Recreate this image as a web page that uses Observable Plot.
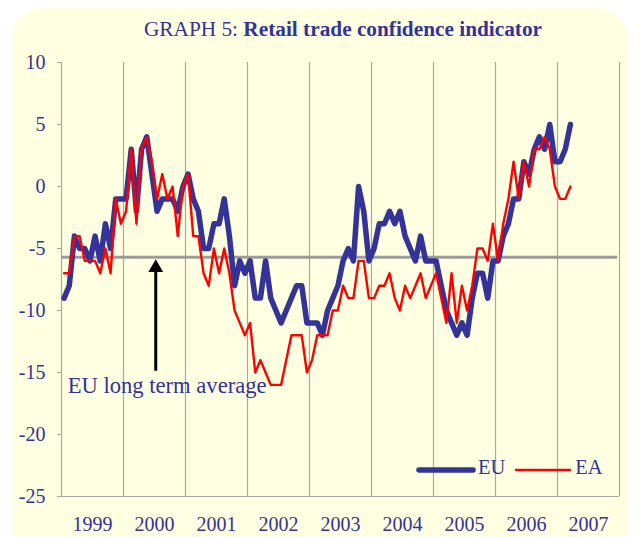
<!DOCTYPE html>
<html>
<head>
<meta charset="utf-8">
<script src="https://cdn.jsdelivr.net/npm/d3@7"></script>
<script src="https://cdn.jsdelivr.net/npm/@observablehq/plot@0.6"></script>
<style>
  body { margin: 0; background: #ffffff; }
  #wrap { position: relative; width: 641px; height: 537px; overflow: hidden; font-family: "Liberation Serif", "Times New Roman", serif; color: #333399; }
  #panel { position: absolute; left: 12px; top: 8px; width: 616px; height: 560px; background: #FFFFE1; border-radius: 30px; }
  #title { position: absolute; left: 0; top: 16px; width: 686px; text-align: center; font-size: 21.3px; line-height: 26px; white-space: nowrap; }
  #title b { font-weight: bold; }
  #chart { position: absolute; left: 0; top: 0; }
  #legend { position: absolute; left: 416px; top: 452px; font-size: 20.5px; line-height: 26px; white-space: nowrap; }
  #legend span.item { display: inline-block; vertical-align: middle; }
  #legend svg { vertical-align: middle; }
  #chart svg text { font-family: "Liberation Serif", "Times New Roman", serif; }
</style>
</head>
<body>
<div id="wrap">
  <div id="panel"></div>
  <div id="chart"></div>
  <div id="title">GRAPH 5: <b>Retail trade confidence indicator</b></div>
  <div id="legend"></div>
</div>
<script>
// ---- data (monthly, Jan 1999 – Mar 2007) ----
const startYear = 1999;
const seriesNames = ["EU", "EA"];
const seriesColors = ["#333399", "#FF0000"];
const eu = [
  -9, -8, -4, -5, -5, -6, -4, -6, -3, -5, -1, -1,     // 1999
  -1, 3, -2, 3, 4, 1, -2, -1, -1, -1, -2, 0,          // 2000
  1, -1, -2, -5, -5, -3, -3, -1, -4, -8, -6, -7,      // 2001
  -6, -9, -9, -6, -9, -10, -11, -10, -9, -8, -8, -11, // 2002
  -11, -11, -12, -10, -9, -8, -6, -5, -6, 0, -2, -6,  // 2003
  -5, -3, -3, -2, -3, -2, -4, -5, -6, -4, -6, -6,     // 2004
  -6, -8, -10, -11, -12, -11, -12, -9, -7, -7, -9, -6, // 2005
  -6, -4, -3, -1, -1, 2, 1, 3, 4, 3, 5, 2,            // 2006
  2, 3, 5                                              // 2007
];
const ea = [
  -7, -7, -4, -4, -6, -6, -6, -7, -5, -7, -1, -3,     // 1999
  -2, 3, -3, 3, 4, 2, -1, 1, -1, 0, -4, 0,            // 2000
  1, -4, -4, -7, -8, -5, -7, -5, -7, -10, -11, -12,   // 2001
  -11, -15, -14, -15, -16, -16, -16, -14, -12, -12, -12, -15, // 2002
  -14, -12, -12, -12, -10, -10, -8, -9, -9, -6, -6, -9, // 2003
  -9, -8, -8, -7, -9, -10, -8, -9, -8, -7, -9, -8,    // 2004
  -7, -9, -11, -7, -11, -8, -10, -8, -5, -5, -6, -3,  // 2005
  -6, -3, -1, 2, -1, 2, 0, 3, 3, 4, 3, 0,             // 2006
  -1, -1, 0                                            // 2007
];
const euLongTermAverage = -5.7;
const yearLabels = [1999, 2000, 2001, 2002, 2003, 2004, 2005, 2006, 2007];
const yTicks = [10, 5, 0, -5, -10, -15, -20, -25];
const annotationText = "EU long term average";

// ---- build table ----
const rows = eu.map((v, i) => ({ t: startYear + (i + 0.5) / 12, eu: v, ea: ea[i] }));
const yearEdges = yearLabels.map(y => y).concat([yearLabels[yearLabels.length - 1] + 1]);
const xMin = yearEdges[0], xMax = yearEdges[yearEdges.length - 1];
const yMin = d3.min(yTicks), yMax = d3.max(yTicks);

const arrowX = 2000.52;
const arrowRows = [{ x: arrowX, y1: -14.9, y2: -6.9, tip: -6.55 }];
const serif = "'Liberation Serif', 'Times New Roman', serif";

const chart = Plot.plot({
  width: 641,
  height: 537,
  marginLeft: 61,
  marginRight: 22,
  marginTop: 62,
  marginBottom: 41,
  style: { background: "transparent", fontFamily: serif, fontSize: "20px", color: "#333399", overflow: "visible" },
  x: { domain: [xMin, xMax] },
  y: { domain: [yMin, yMax] },
  marks: [
    // vertical gridlines at year boundaries
    Plot.ruleX(yearEdges.slice(1), { stroke: "#A8A8A0", strokeWidth: 1.2 }),
    // frame lines
    Plot.ruleX([xMin], { stroke: "#A8A8A0", strokeWidth: 1.2 }),
    Plot.ruleY([yMin], { stroke: "#A8A8A0", strokeWidth: 1.2 }),
    // axes
    Plot.axisY({ ticks: yTicks, tickSize: 4, tickPadding: 12, stroke: "#A8A8A0", fill: "#333399", fontSize: 20, fontFamily: serif, tickFormat: d => String(d) }),
    Plot.axisX({ ticks: yearLabels.map(y => y + 0.5), tickSize: 0, tickPadding: 20, fill: "#333399", fontSize: 20, fontFamily: serif, tickFormat: d => String(Math.floor(d)) }),
    // long-term average
    Plot.ruleY([euLongTermAverage], { x1: xMin + 0.01, x2: xMax - 0.03, stroke: "#9C9C98", strokeWidth: 3 }),
    // series
    Plot.line(rows, { x: "t", y: "eu", stroke: seriesColors[0], strokeWidth: 5.5, strokeLinejoin: "round", strokeLinecap: "round" }),
    Plot.line(rows, { x: "t", y: "ea", stroke: seriesColors[1], strokeWidth: 2.4, strokeLinejoin: "round" }),
    // annotation
    Plot.ruleX(arrowRows, { x: "x", y1: "y1", y2: "y2", stroke: "#000", strokeWidth: 3 }),
    Plot.dot(arrowRows, { x: "x", y: "tip", symbol: "triangle", r: 5.5, fill: "#000", stroke: "none" }),
    Plot.text([annotationText], { x: 1999.1, y: -16.1, text: d => d, textAnchor: "start", fill: "#333399", fontSize: 22.6, fontFamily: serif })
  ]
});
document.getElementById("chart").appendChild(chart);

// ---- legend ----
const legend = document.getElementById("legend");
seriesNames.forEach((name, i) => {
  const item = document.createElement("span");
  item.className = "item";
  item.style.marginRight = i === 0 ? "8px" : "0";
  const w = i === 0 ? 5.5 : 2.4;
  item.innerHTML = `<svg width="60" height="12"><line x1="3" y1="6" x2="57" y2="6" stroke="${seriesColors[i]}" stroke-width="${w}" stroke-linecap="round"/></svg><span style="margin-left:2px">${name}</span>`;
  legend.appendChild(item);
});
</script>
</body>
</html>
